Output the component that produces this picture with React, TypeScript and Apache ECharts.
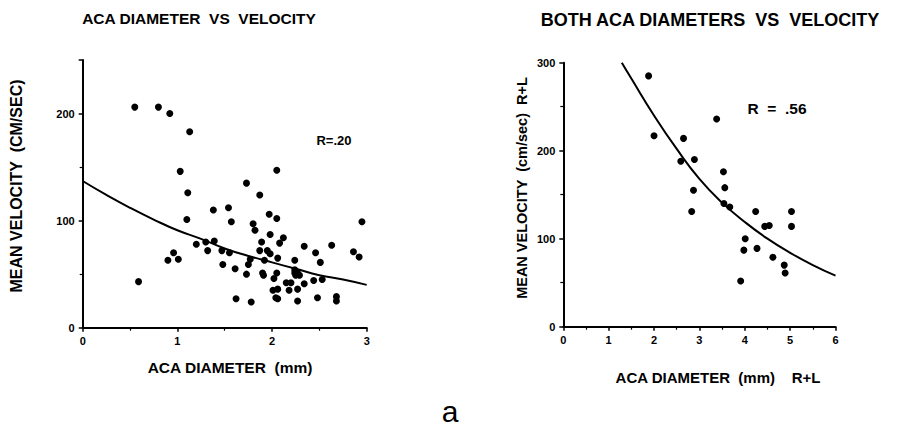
import React, { useEffect, useRef } from "react";
import * as echarts from "echarts";

// Left panel: single ACA diameter (mm) vs mean velocity (cm/sec)
const leftDiameter = [
  0.55, 0.8, 0.92, 1.13, 1.03, 1.11, 1.1, 0.59, 0.9, 0.96, 1.01, 1.2, 1.3, 1.32, 1.39,
  1.38, 1.47, 1.48, 1.54, 1.55, 1.57, 1.61, 1.62, 1.73, 1.73, 1.75, 1.77, 1.78, 1.8, 1.82,
  1.87, 1.87, 1.89, 1.9, 1.91, 1.92, 1.95, 1.97, 1.98, 1.98, 2.01, 2.02, 2.04, 2.05, 2.05,
  2.05, 2.06, 2.06, 2.06, 2.08, 2.12, 2.15, 2.18, 2.2, 2.24, 2.24, 2.25, 2.27, 2.27, 2.27,
  2.29, 2.34, 2.34, 2.44, 2.46, 2.48, 2.51, 2.53, 2.63, 2.68, 2.68, 2.86, 2.92, 2.95, 2.24,
];
const leftVelocity = [
  206, 206, 200, 183, 146, 126, 101, 43, 63, 70, 64, 78, 80, 72, 81,
  110, 72, 59, 112, 70, 99, 55, 27, 50, 135, 59, 64, 24, 97, 91,
  124, 72, 80, 51, 49, 63, 72, 106, 87, 69, 35, 46, 28, 102, 51,
  147, 36, 65, 27, 79, 84, 42, 35, 42, 63, 51, 49, 51, 25, 36,
  49, 41, 76, 44, 70, 28, 61, 45, 77, 29, 25, 71, 66, 99, 54,
];
const leftCurveX = [0, 0.25, 0.5, 0.75, 1, 1.25, 1.5, 1.75, 2, 2.25, 2.5, 2.75, 3];
const leftCurveY = [137, 124, 112, 101, 91, 83, 74, 67, 61, 55, 49, 45, 40];

// Right panel: both ACA diameters (R+L) vs mean velocity
const rightDiameter = [
  1.88, 2.0, 2.65, 2.59, 2.89, 2.87, 2.83, 3.38, 3.53, 3.56, 3.54, 3.67,
  4.24, 4.01, 3.98, 4.27, 3.91, 4.44, 4.54, 4.62, 4.87, 4.89, 5.03, 5.03,
];
const rightVelocity = [
  285, 217, 214, 188, 190, 155, 131, 236, 176, 158, 140, 136,
  131, 100, 87, 89, 52, 114, 115, 79, 70, 61, 131, 114,
];
const rightCurveX = [1.29, 1.5, 2, 2.5, 3, 3.5, 4, 4.5, 5, 5.5, 6];
const rightCurveY = [300, 282, 240, 202, 168, 141, 119, 100, 84, 70, 58];

const leftTicks = [0, 1, 2, 3];
const leftYTicks = [0, 100, 200];
const rightTicks = [0, 1, 2, 3, 4, 5, 6];
const rightYTicks = [0, 100, 200, 300];

const FONT = "'Liberation Sans', Arial, Helvetica, sans-serif";

function pairs(xs: number[], ys: number[]) {
  return xs.map((x, i) => [x, ys[i]]);
}

function axisCommon(ticks: number[]) {
  return {
    axisLine: { show: true, onZero: false, lineStyle: { color: "#000", width: 2 } },
    axisTick: { show: true, length: 4, lineStyle: { color: "#000", width: 1.5 } },
    minorTick: { show: true, splitNumber: 2, length: 3, lineStyle: { color: "#000", width: 1.2 } },
    splitLine: { show: false },
    minorSplitLine: { show: false },
    axisLabel: {
      color: "#000",
      fontFamily: FONT,
      fontWeight: "bold" as const,
      fontSize: 11,
      margin: 8,
      formatter: (v: number) => (ticks.indexOf(v) >= 0 ? String(v) : ""),
    },
  };
}

function text(t: string, x: number, y: number, size: number, extra: any = {}) {
  const { weight, ...rest } = extra;
  return {
    type: "text",
    x,
    y,
    ...rest,
    style: {
      text: t,
      fill: "#000",
      fontFamily: FONT,
      fontWeight: weight || "bold",
      fontSize: size,
      align: "center",
      verticalAlign: "middle",
    },
  };
}

export default function App() {
  const ref = useRef<HTMLDivElement>(null);
  useEffect(() => {
    document.body.style.margin = "0";
    const chart = echarts.init(ref.current!, null, { renderer: "svg" });
    chart.setOption({
      animation: false,
      backgroundColor: "#fff",
      grid: [
        { left: 82.7, top: 60, width: 284, height: 267.7 },
        { left: 563.3, top: 62.7, width: 272.2, height: 264 },
      ],
      xAxis: [
        { type: "value", gridIndex: 0, min: 0, max: 3, interval: 1, ...axisCommon(leftTicks) },
        { type: "value", gridIndex: 1, min: 0, max: 6, interval: 1, ...axisCommon(rightTicks) },
      ],
      yAxis: [
        { type: "value", gridIndex: 0, min: 0, max: 250, interval: 100, ...axisCommon(leftYTicks) },
        { type: "value", gridIndex: 1, min: 0, max: 300, interval: 100, ...axisCommon(rightYTicks) },
      ],
      series: [
        {
          type: "scatter",
          xAxisIndex: 0,
          yAxisIndex: 0,
          data: pairs(leftDiameter, leftVelocity),
          symbol: "circle",
          symbolSize: 7,
          itemStyle: { color: "#000", opacity: 1 },
        },
        {
          type: "line",
          xAxisIndex: 0,
          yAxisIndex: 0,
          data: pairs(leftCurveX, leftCurveY),
          smooth: true,
          showSymbol: false,
          lineStyle: { color: "#000", width: 2 },
        },
        {
          type: "scatter",
          xAxisIndex: 1,
          yAxisIndex: 1,
          data: pairs(rightDiameter, rightVelocity),
          symbol: "circle",
          symbolSize: 7,
          itemStyle: { color: "#000", opacity: 1 },
        },
        {
          type: "line",
          xAxisIndex: 1,
          yAxisIndex: 1,
          data: pairs(rightCurveX, rightCurveY),
          smooth: true,
          showSymbol: false,
          lineStyle: { color: "#000", width: 2 },
        },
      ],
      graphic: [
        text("ACA DIAMETER  VS  VELOCITY", 199, 18, 15.5),
        text("BOTH ACA DIAMETERS  VS  VELOCITY", 710, 20, 18),
        text("MEAN VELOCITY  (CM/SEC)", 16.7, 186, 16, { rotation: Math.PI / 2 }),
        text("MEAN VELOCITY  (cm/sec)  R+L", 522, 188, 14.5, { rotation: Math.PI / 2 }),
        text("ACA DIAMETER  (mm)", 230, 367, 15.5),
        text("ACA DIAMETER  (mm)    R+L", 718, 377, 15),
        text("R=.20", 334, 140, 13),
        text("R  =  .56", 777, 108, 15.5),
        text("a", 450, 411, 30, { weight: "normal" }),
      ],
    });
    return () => chart.dispose();
  }, []);
  return <div ref={ref} style={{ width: 904, height: 438 }} />;
}
